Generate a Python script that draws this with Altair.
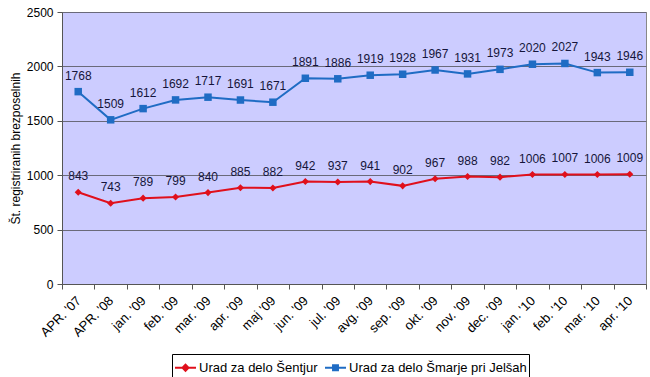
import altair as alt
import pandas as pd

categories = ["APR. '07", "APR. '08", "jan. '09", "feb. '09", "mar. '09", "apr. '09",
              "maj '09", "jun. '09", "jul. '09", "avg. '09", "sep. '09", "okt. '09",
              "nov. '09", "dec. '09", "jan. '10", "feb. '10", "mar. '10", "apr. '10"]
sentjur = [843, 743, 789, 799, 840, 885, 882, 942, 937, 941, 902, 967, 988, 982, 1006, 1007, 1006, 1009]
smarje = [1768, 1509, 1612, 1692, 1717, 1691, 1671, 1891, 1886, 1919, 1928, 1967, 1931, 1973, 2020, 2027, 1943, 1946]
series_names = ["Urad za delo Šentjur", "Urad za delo Šmarje pri Jelšah"]
colors = ["#E0101C", "#1F6CC4"]

rows = []
for c, a, b in zip(categories, sentjur, smarje):
    rows.append({"cat": c, "series": series_names[0], "value": a})
    rows.append({"cat": c, "series": series_names[1], "value": b})
df = pd.DataFrame(rows)

FONT = "Liberation Sans"

xenc = alt.X("cat:N", sort=categories,
             scale=alt.Scale(type="band", paddingInner=0, paddingOuter=0),
             bandPosition=0.5,
             axis=alt.Axis(title=None, labelAngle=-45, labelAlign="right", labelBaseline="top",
                           labelFontSize=13, labelFont=FONT, labelColor="#000000",
                           tickBand="extent", tickSize=5, tickColor="#555555",
                           domainColor="#555555", labelPadding=5, labelOffset=-4, grid=False))
yenc = alt.Y("value:Q", scale=alt.Scale(domain=[0, 2500], nice=False),
             axis=alt.Axis(title="Št. registriranih brezposelnih", values=[0, 500, 1000, 1500, 2000, 2500],
                           format="d",
                           titleFont=FONT, titleFontSize=12, titleFontWeight="normal", titleColor="#000000",
                           titlePadding=4,
                           labelFont=FONT, labelFontSize=12, labelColor="#000000", labelPadding=4,
                           tickSize=5, tickColor="#555555", domainColor="#555555",
                           grid=True, gridColor="#6a6a7a", gridWidth=1))

base = alt.Chart(df)

layers = []
shapes = ["diamond", "square"]
sizes = [50, 56]
for name, col, shp, sz in zip(series_names, colors, shapes, sizes):
    sub = base.transform_filter(alt.datum.series == name)
    layers.append(sub.mark_line(strokeWidth=2, color=col).encode(x=xenc, y=yenc))
    layers.append(sub.mark_point(filled=True, opacity=1, shape=shp, size=sz, color=col).encode(x=xenc, y=yenc))
    layers.append(sub.mark_text(dy=-16, font=FONT, fontSize=12, color="#15153a").encode(
        x=xenc, y=yenc, text="value:Q"))

legend_shapes = [
    "M-1,-0.1H1V0.1H-1Z M0,-0.42L0.42,0L0,0.42L-0.42,0Z",
    "M-1,-0.1H1V0.1H-1Z M-0.33,-0.33H0.33V0.33H-0.33Z",
]
legend_layer = base.transform_filter("false").mark_point(filled=True, opacity=1).encode(
    x=xenc, y=yenc,
    color=alt.Color("series:N", scale=alt.Scale(domain=series_names, range=colors),
                    legend=alt.Legend(title=None, orient="none", legendX=110, legendY=342,
                                      direction="horizontal", strokeColor="#000000", padding=2,
                                      labelFont=FONT, labelFontSize=13, labelColor="#000000",
                                      labelLimit=400,
                                      symbolSize=441, symbolOpacity=1, columnPadding=6,
                                      labelOffset=2)),
    shape=alt.Shape("series:N", scale=alt.Scale(domain=series_names, range=legend_shapes), legend=None),
)

chart = alt.layer(*layers, legend_layer).properties(
    width=584, height=272,
    autosize=alt.AutoSizeParams(type="none"),
    padding={"left": 62, "top": 12, "right": 4, "bottom": 93},
    background="#ffffff",
).configure_view(fill="#CCCCFF", stroke="#888888", strokeWidth=1)

chart.save("out.html", embed_options={"renderer": "svg", "actions": False})
